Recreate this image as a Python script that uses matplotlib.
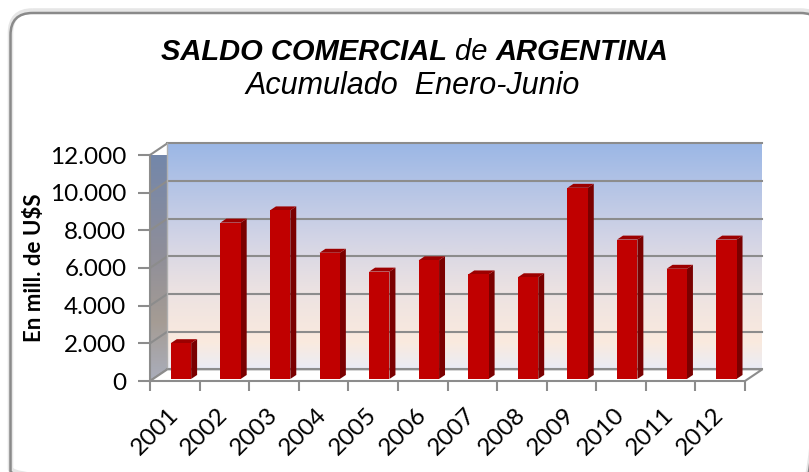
import matplotlib
matplotlib.use("Agg")
import matplotlib.pyplot as plt
import numpy as np
from matplotlib.patches import Polygon, FancyBboxPatch
from matplotlib.colors import LinearSegmentedColormap

YEARS = ["2001", "2002", "2003", "2004", "2005", "2006",
         "2007", "2008", "2009", "2010", "2011", "2012"]
SALDO = [1900, 8300, 8950, 6700, 5700, 6300, 5550, 5400, 10150, 7400, 5850, 7400]
Y_TICKS = [0, 2000, 4000, 6000, 8000, 10000, 12000]
Y_TICK_LABELS = ["0", "2.000", "4.000", "6.000", "8.000", "10.000", "12.000"]

TITLE_FONT = "Liberation Sans"
TICK_FONT = "Lato"
GRID = "#8c8c8c"

# fake 3D geometry (data units)
WALL_DX, WALL_DY = 0.35, 620
BAR_DX, BAR_DY = 0.12, 210
BAR_OFF, BAR_W, BAR_BASE = 0.42, 0.41, 110

W, H = 809, 472
fig = plt.figure(figsize=(W / 100, H / 100), dpi=100)
fig.patch.set_facecolor("white")

# rounded chart border on a pixel-sized background axes; right and bottom run off the image
bg = fig.add_axes([0, 0, 1, 1], zorder=-5)
bg.set_xlim(0, W)
bg.set_ylim(H, 0)
bg.axis("off")
for dy, col, lw in [(-2, "#e6e6e6", 4.0), (0, "#8a8a8a", 1.8)]:
    bg.add_patch(FancyBboxPatch((10.5, 13 + dy), 812, 480,
                                boxstyle="round,pad=0,rounding_size=22",
                                facecolor="none", edgecolor=col, linewidth=lw))

ax = fig.add_axes([150 / W, (H - 381) / H, 595 / W, 226 / H])
ax.set_facecolor("none")
for s in ax.spines.values():
    s.set_visible(False)

n = len(YEARS)
top = Y_TICKS[-1]

# back wall gradient
wall_cmap = LinearSegmentedColormap.from_list("wall", [
    (0.0, (234 / 255, 236 / 255, 245 / 255)),
    (0.12, (250 / 255, 234 / 255, 222 / 255)),
    (0.35, (236 / 255, 226 / 255, 226 / 255)),
    (0.55, (214 / 255, 214 / 255, 229 / 255)),
    (0.75, (188 / 255, 200 / 255, 230 / 255)),
    (1.0, (155 / 255, 183 / 255, 229 / 255)),
])
grad = np.linspace(0, 1, 256).reshape(-1, 1)
ax.imshow(grad, cmap=wall_cmap, origin="lower", aspect="auto",
          extent=[WALL_DX, n + WALL_DX, WALL_DY, top + WALL_DY], zorder=0, clip_on=False)

# left side wall
side_cmap = LinearSegmentedColormap.from_list("side", [
    (0.0, (170 / 255, 174 / 255, 188 / 255)),
    (0.25, (165 / 255, 156 / 255, 148 / 255)),
    (0.55, (142 / 255, 142 / 255, 154 / 255)),
    (1.0, (112 / 255, 134 / 255, 172 / 255)),
])
side = Polygon([(0, 0), (0, top), (WALL_DX, top + WALL_DY), (WALL_DX, WALL_DY)],
               closed=True, facecolor="none", edgecolor="none", transform=ax.transData)
ax.add_patch(side)
im = ax.imshow(grad, cmap=side_cmap, origin="lower", aspect="auto",
               extent=[0, WALL_DX, 0, top + WALL_DY], zorder=0)
im.set_clip_path(side)

# gridlines on back and side walls
for v in Y_TICKS:
    ax.plot([WALL_DX, n + WALL_DX], [v + WALL_DY, v + WALL_DY], color=GRID,
            lw=1.5, zorder=1, clip_on=False)
    ax.plot([0, WALL_DX], [v, v + WALL_DY], color=GRID, lw=1.5, zorder=1, clip_on=False)
ax.plot([0, 0], [0, top], color=GRID, lw=1.5, zorder=1, clip_on=False)
ax.plot([WALL_DX, WALL_DX], [WALL_DY, top + WALL_DY], color="#b0b0b0", lw=1.0, zorder=1,
        clip_on=False)

# floor
ax.add_patch(Polygon([(0, 0), (n, 0), (n + WALL_DX, WALL_DY), (WALL_DX, WALL_DY)],
                     closed=True, facecolor="white", edgecolor=GRID, lw=1.5, zorder=2,
                     clip_on=False))

# bars
for i, val in enumerate(SALDO):
    x0 = i + BAR_OFF
    x1 = x0 + BAR_W
    b, t = BAR_BASE, BAR_BASE + val
    ax.add_patch(Polygon([(x1, b), (x1, t), (x1 + BAR_DX, t + BAR_DY), (x1 + BAR_DX, b + BAR_DY)],
                         closed=True, facecolor="#7a0000", edgecolor="none", zorder=3,
                         clip_on=False))
    ax.add_patch(Polygon([(x0, t), (x0 + BAR_DX, t + BAR_DY), (x1 + BAR_DX, t + BAR_DY), (x1, t)],
                         closed=True, facecolor="#9c0000", edgecolor="none", zorder=3,
                         clip_on=False))
    ax.bar(x0, val, width=BAR_W, bottom=b, align="edge", color="#c00000",
           edgecolor="none", zorder=4, clip_on=False)

ax.set_xlim(0, n)
ax.set_ylim(0, top)

ax.set_yticks(Y_TICKS)
ax.set_yticklabels(Y_TICK_LABELS, fontfamily=TICK_FONT, fontsize=17.5)
ax.tick_params(axis="y", length=9, width=1.5, color=GRID, pad=8)

ax.set_xticks(np.arange(n) + 0.5)
ax.set_xticklabels(YEARS, rotation=45, ha="right", va="center", rotation_mode="anchor",
                   fontfamily=TICK_FONT, fontsize=17.5)
ax.tick_params(axis="x", which="major", length=0, pad=22)
ax.set_xticks(np.arange(n + 1), minor=True)
ax.tick_params(axis="x", which="minor", length=7, width=1.5, color=GRID)

ax.set_ylabel("En mill. de U$S", fontfamily=TICK_FONT, fontweight="bold", fontsize=16)
ax.yaxis.set_label_coords(-(150 - 45) / 595, 0.5)

# title: mixed weights on the first line, centred as a whole
renderer = fig.canvas.get_renderer()
pieces = [("SALDO COMERCIAL ", "bold"), ("de ", "normal"), ("ARGENTINA", "bold")]
texts = [fig.text(0, 1 - 52 / H, s, ha="left", va="center", fontfamily=TITLE_FONT,
                  fontstyle="italic", fontweight=w, fontsize=21) for s, w in pieces]
widths = [t.get_window_extent(renderer).width for t in texts]
x = 415 - sum(widths) / 2
for t, w in zip(texts, widths):
    t.set_x(x / W)
    x += w
fig.text(413 / W, 1 - 86 / H, "Acumulado  Enero-Junio", ha="center", va="center",
         fontfamily=TITLE_FONT, fontstyle="italic", fontsize=22)

fig.savefig("out.png", dpi=100, facecolor="white")
